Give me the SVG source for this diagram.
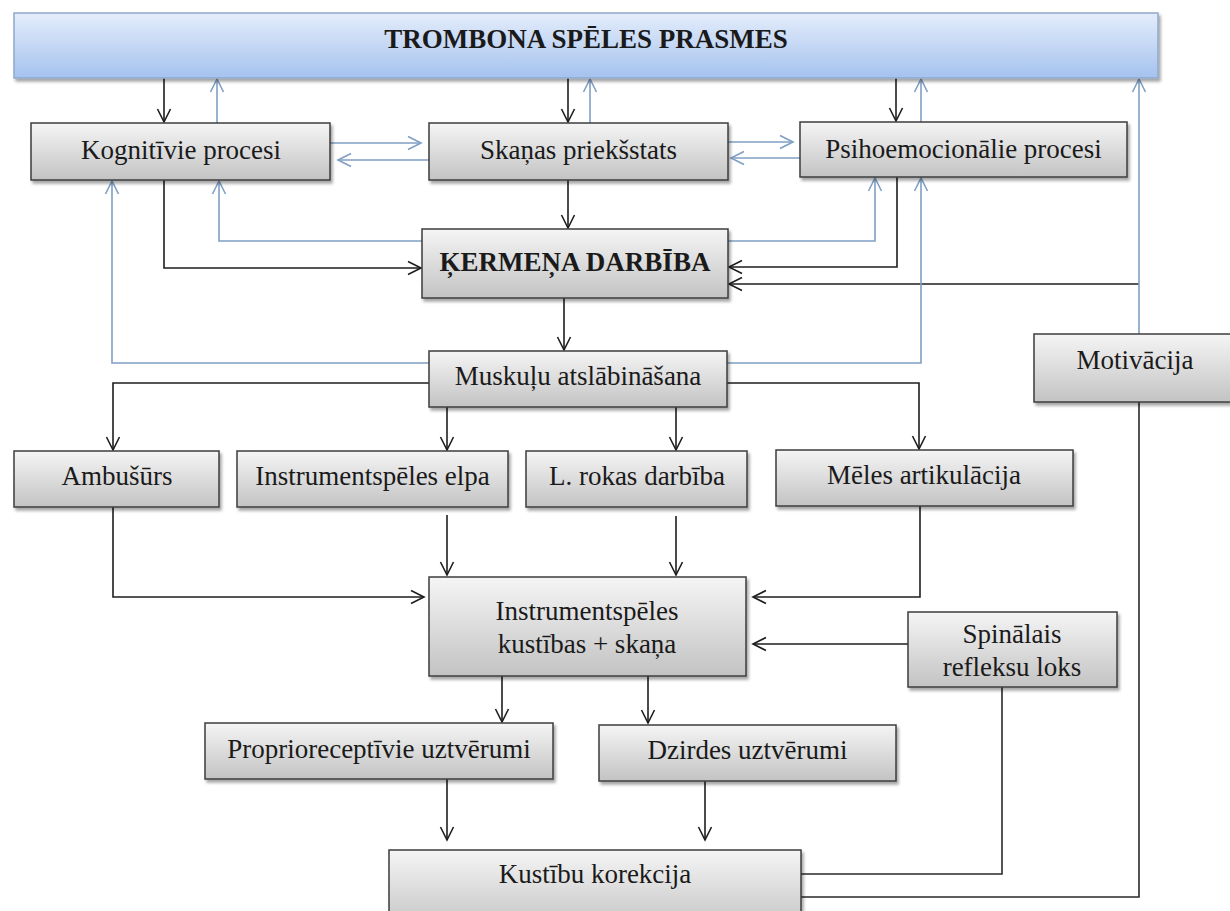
<svg xmlns="http://www.w3.org/2000/svg" width="1230" height="911" viewBox="0 0 1230 911">
<style>
.box{fill:url(#gg);stroke:#3c3c3c;stroke-width:1.5;filter:url(#sh)}
.tbox{fill:url(#bg);stroke:#8ea9cc;stroke-width:1.5;filter:url(#sh)}
text{font-family:"Liberation Serif","Times New Roman",serif;font-size:27px;fill:#1a1a1a;text-anchor:middle}
.b{font-weight:bold}
.k{fill:none;stroke:#1e1e1e;stroke-width:1.6;marker-end:url(#ak)}
.kn{fill:none;stroke:#2a2a2a;stroke-width:1.6}
.u{fill:none;stroke:#7f9fc4;stroke-width:1.6;marker-end:url(#au)}
</style>
<defs>
<linearGradient id="gg" x1="0" y1="0" x2="0" y2="1"><stop offset="0" stop-color="#f5f5f5"/><stop offset="1" stop-color="#c3c3c3"/></linearGradient>
<linearGradient id="bg" x1="0" y1="0" x2="0" y2="1"><stop offset="0" stop-color="#e4edfb"/><stop offset="1" stop-color="#a5c2ee"/></linearGradient>
<filter id="sh" x="-5%" y="-10%" width="115%" height="130%"><feDropShadow dx="2" dy="3" stdDeviation="1.8" flood-color="#000" flood-opacity="0.35"/></filter>
<marker id="ak" markerUnits="userSpaceOnUse" markerWidth="16" markerHeight="16" refX="13" refY="6.5" orient="auto" overflow="visible"><path d="M0,0 L13,6.5 L0,13" fill="none" stroke="#1e1e1e" stroke-width="1.6"/></marker>
<marker id="au" markerUnits="userSpaceOnUse" markerWidth="16" markerHeight="16" refX="13" refY="6.5" orient="auto" overflow="visible"><path d="M0,0 L13,6.5 L0,13" fill="none" stroke="#7f9fc4" stroke-width="1.6"/></marker>
</defs>
<rect width="1230" height="911" fill="#fff"/>
<g id="connectors">
<path class="k" d="M164,78 V122"/>
<path class="k" d="M568,78 V122"/>
<path class="k" d="M896,78 V121"/>
<path class="k" d="M164,180 V268 H421"/>
<path class="k" d="M568,180 V228"/>
<path class="k" d="M897,177 V267 H729"/>
<path class="k" d="M1139,284 H729"/>
<path class="k" d="M564,298 V350"/>
<path class="k" d="M429,383 H113 V450"/>
<path class="k" d="M447,407 V450"/>
<path class="k" d="M676,407 V450"/>
<path class="k" d="M727,383 H919 V449"/>
<path class="k" d="M113,507 V597 H424"/>
<path class="k" d="M447,515 V575"/>
<path class="k" d="M676,516 V575"/>
<path class="k" d="M920,506 V597 H753"/>
<path class="k" d="M908,644 H753"/>
<path class="k" d="M502,676 V722"/>
<path class="k" d="M648,676 V723"/>
<path class="k" d="M447,779 V840"/>
<path class="k" d="M705,781 V840"/>
<path class="kn" d="M801,874 H1002 V687"/>
<path class="kn" d="M801,897 H1139 V402"/>
<path class="u" d="M217,123 V79"/>
<path class="u" d="M590,123 V79"/>
<path class="u" d="M921,122 V79"/>
<path class="u" d="M1139,334 V79"/>
<path class="u" d="M330,143 H421"/>
<path class="u" d="M429,160 H338"/>
<path class="u" d="M728,142 H793"/>
<path class="u" d="M800,158 H731"/>
<path class="u" d="M422,241 H219 V181"/>
<path class="u" d="M429,363 H112 V181"/>
<path class="u" d="M728,241 H875 V178"/>
<path class="u" d="M727,363 H921 V178"/>
</g>
<g id="n-top"><rect class="tbox" x="14" y="13" width="1144" height="65"/><text class="b" x="586" y="48">TROMBONA SPĒLES PRASMES</text></g>
<g id="n-kogn"><rect class="box" x="31" y="123" width="299" height="57"/><text x="181" y="159">Kognitīvie procesi</text></g>
<g id="n-skanas"><rect class="box" x="429" y="123" width="299" height="57"/><text x="578.5" y="159">Skaņas priekšstats</text></g>
<g id="n-psiho"><rect class="box" x="800" y="122" width="327" height="55"/><text x="963.5" y="158">Psihoemocionālie procesi</text></g>
<g id="n-kermena"><rect class="box" x="422" y="229" width="306" height="69"/><text class="b" x="575" y="271">ĶERMEŅA DARBĪBA</text></g>
<g id="n-musk"><rect class="box" x="429" y="351" width="298" height="56"/><text x="578" y="385">Muskuļu atslābināšana</text></g>
<g id="n-motiv"><rect class="box" x="1034" y="334" width="210" height="68"/><text x="1135" y="369">Motivācija</text></g>
<g id="n-ambu"><rect class="box" x="14" y="451" width="205" height="56"/><text x="117" y="485">Ambušūrs</text></g>
<g id="n-elpa"><rect class="box" x="237" y="451" width="271" height="56"/><text x="372.5" y="485">Instrumentspēles elpa</text></g>
<g id="n-lrokas"><rect class="box" x="526" y="451" width="221" height="56"/><text x="637" y="485">L. rokas darbība</text></g>
<g id="n-meles"><rect class="box" x="776" y="450" width="297" height="56"/><text x="924" y="484">Mēles artikulācija</text></g>
<g id="n-instr"><rect class="box" x="429" y="577" width="317" height="99"/><text x="587" y="620">Instrumentspēles</text><text x="587" y="653">kustības + skaņa</text></g>
<g id="n-spin"><rect class="box" x="908" y="612" width="209" height="75"/><text x="1012" y="643">Spinālais</text><text x="1012" y="676">refleksu loks</text></g>
<g id="n-propr"><rect class="box" x="205" y="723" width="348" height="56"/><text x="379" y="758">Proprioreceptīvie uztvērumi</text></g>
<g id="n-dzird"><rect class="box" x="599" y="725" width="297" height="56"/><text x="747.5" y="759">Dzirdes uztvērumi</text></g>
<g id="n-korek"><rect class="box" x="389" y="850" width="412" height="80"/><text x="595" y="883">Kustību korekcija</text></g>
</svg>
